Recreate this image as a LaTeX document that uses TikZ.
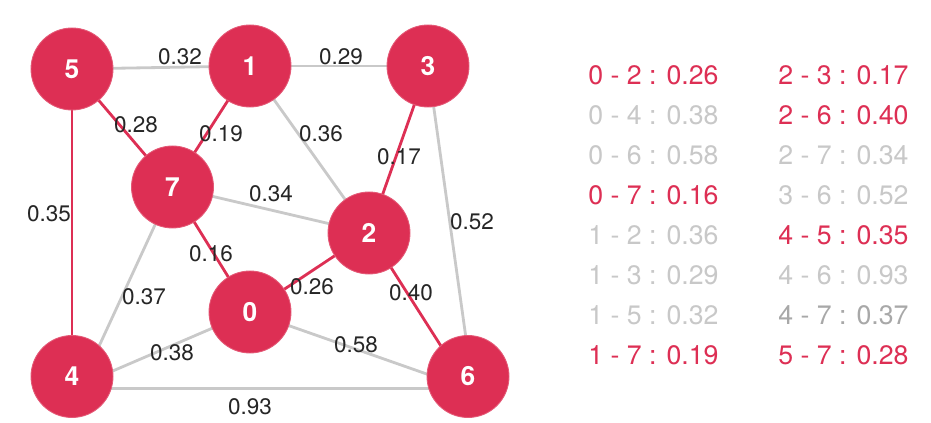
\documentclass[tikz,border=0pt]{standalone}
\usepackage{fontspec}
\setmainfont{TeX Gyre Heros}
\usetikzlibrary{backgrounds}
\definecolor{nodered}{RGB}{221,47,84}
\definecolor{edgegray}{RGB}{201,201,201}
\definecolor{listgray}{RGB}{200,200,200}
\definecolor{darkgray}{RGB}{168,168,168}
\begin{document}
\begin{tikzpicture}[
		vertex/.style={circle,fill=nodered,draw=nodered!80!white,line width=0.5pt,minimum size=1.64cm,inner sep=0pt,text=white,font=\fontsize{15}{17}\selectfont\bfseries},
		mst/.style={draw=nodered,line width=1.6pt},
		other/.style={draw=edgegray,line width=1.6pt},
		wt/.style={font=\fontsize{12.8}{15}\selectfont,text=black!85,inner sep=0pt},
		entry/.style={anchor=west,inner sep=0pt,font=\fontsize{15.2}{18}\selectfont}
	]
	\useasboundingbox (0,0) rectangle (18.62,8.46);
	% vertices
	\node[vertex] (v5) at (1.44,7.08) {5};
	\node[vertex] (v1) at (5.00,7.14) {1};
	\node[vertex] (v3) at (8.56,7.14) {3};
	\node[vertex] (v7) at (3.45,4.72) {7};
	\node[vertex] (v2) at (7.38,3.80) {2};
	\node[vertex] (v0) at (5.00,2.22) {0};
	\node[vertex] (v4) at (1.44,0.93) {4};
	\node[vertex] (v6) at (9.36,0.93) {6};
	% edges
	\begin{pgfonlayer}{background}
		\draw[other] (v5.center) -- (v1.center);
		\draw[other] (v1.center) -- (v3.center);
		\draw[other] (v1.center) -- (v2.center);
		\draw[other] (v7.center) -- (v2.center);
		\draw[other] (v3.center) -- ([xshift=0.1cm,yshift=-0.24cm]v6.center);
		\draw[other] ([xshift=0.15cm,yshift=-0.24cm]v4.center) -- (v7.center);
		\draw[other] ([yshift=-0.24cm]v4.center) -- (v0.center);
		\draw[other] (v0.center) -- ([yshift=-0.24cm]v6.center);
		\draw[other] ([yshift=-0.24cm]v4.center) -- ([yshift=-0.24cm]v6.center);
		\draw[mst] (v5.center) -- (v7.center);
		\draw[mst] (v1.center) -- (v7.center);
		\draw[mst] (v5.center) -- (v4.center);
		\draw[mst] (v7.center) -- (v0.center);
		\draw[mst] (v0.center) -- (v2.center);
		\draw[mst] (v3.center) -- (v2.center);
		\draw[mst] (v2.center) -- ([yshift=-0.24cm]v6.center);
	\end{pgfonlayer}
	% weights
	\node[wt] (w15) at (3.60,7.32) {0.32};
	\node[wt] (w13) at (6.82,7.32) {0.29};
	\node[wt] (w57) at (2.72,5.96) {0.28};
	\node[wt] (w17) at (4.42,5.78) {0.19};
	\node[wt] (w12) at (6.42,5.78) {0.36};
	\node[wt] (w23) at (7.98,5.32) {0.17};
	\node[wt] (w27) at (5.42,4.58) {0.34};
	\node[wt] (w45) at (0.98,4.18) {0.35};
	\node[wt] (w36) at (9.44,4.02) {0.52};
	\node[wt] (w07) at (4.22,3.38) {0.16};
	\node[wt] (w02) at (6.24,2.72) {0.26};
	\node[wt] (w26) at (8.22,2.60) {0.40};
	\node[wt] (w47) at (2.88,2.52) {0.37};
	\node[wt] (w04) at (3.44,1.40) {0.38};
	\node[wt] (w06) at (7.12,1.56) {0.58};
	\node[wt] (w46) at (5.00,0.32) {0.93};
	% edge list
	\foreach \txt/\col [count=\r] in {0 - 2 : 0.26/nodered,0 - 4 : 0.38/listgray,0 - 6 : 0.58/listgray,0 - 7 : 0.16/nodered,1 - 2 : 0.36/listgray,1 - 3 : 0.29/listgray,1 - 5 : 0.32/listgray,1 - 7 : 0.19/nodered}
		\node[entry,text=\col] (la\r) at (11.76,{6.96-0.8*(\r-1)}) {\txt};
	\foreach \txt/\col [count=\r] in {2 - 3 : 0.17/nodered,2 - 6 : 0.40/nodered,2 - 7 : 0.34/listgray,3 - 6 : 0.52/listgray,4 - 5 : 0.35/nodered,4 - 6 : 0.93/listgray,4 - 7 : 0.37/darkgray,5 - 7 : 0.28/nodered}
		\node[entry,text=\col] (lb\r) at (15.56,{6.96-0.8*(\r-1)}) {\txt};
\end{tikzpicture}
\end{document}
